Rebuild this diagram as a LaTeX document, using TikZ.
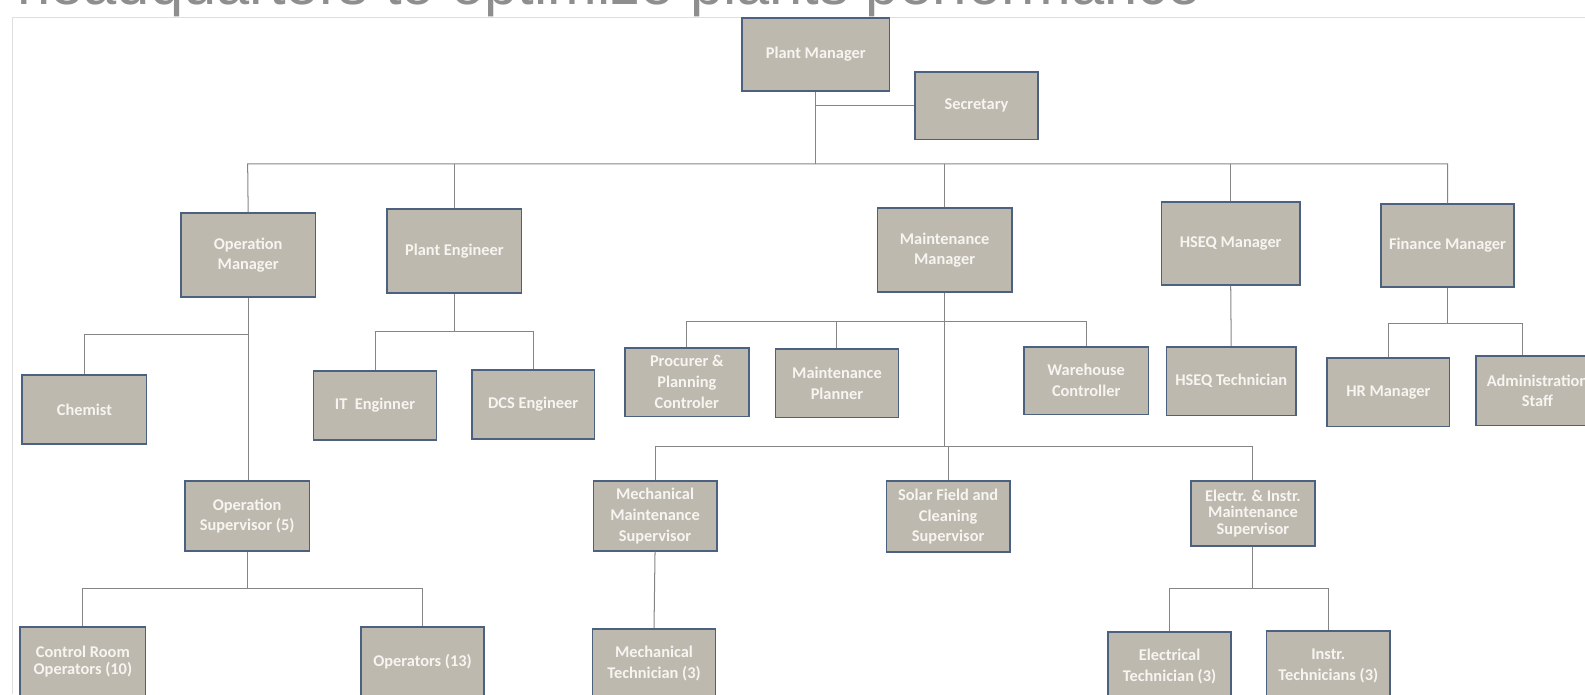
\documentclass[tikz,border=0pt]{standalone}
\usepackage{fontspec}
\usepackage{xcolor}
\usepackage{tikz}
\usetikzlibrary{positioning,calc}
\newfontfamily\boxfont{Carlito}
\newfontfamily\titlefont{Liberation Sans}
\definecolor{boxFill}{HTML}{BEB9AE}
\definecolor{boxEdge}{HTML}{4C6180}
\definecolor{boxText}{HTML}{F6F5F1}
\definecolor{linkGray}{HTML}{858585}
\definecolor{frameGray}{HTML}{DEDEDE}
\definecolor{titleGray}{HTML}{8E8E8E}
\tikzset{
  orgbox/.style={draw=boxEdge, line width=1.6pt, fill=boxFill, text=boxText, align=center,
    inner sep=0pt, minimum width=122pt, minimum height=68pt,
    font=\boxfont\bfseries\fontsize{16.2}{20.5}\selectfont},
  tightbox/.style={orgbox, font=\boxfont\bfseries\fontsize{16.2}{16}\selectfont},
  link/.style={draw=linkGray, line width=1pt}
}

\begin{document}
\begin{tikzpicture}[x=1pt, y=-1pt]
\useasboundingbox (0,0) rectangle (1568,687);
\clip (0,0) rectangle (1568,687);
% --- slide frame and cut-off title ---
\draw[frameGray, line width=1pt] (12,687) -- (12,17) -- (1568,17);
\node[anchor=base west, inner sep=0pt, text=titleGray, font=\titlefont\fontsize{59}{64}\selectfont] (title) at (17,4) {headquarters to optimize plants performance};
% --- top ---
\node[orgbox, minimum width=146pt, minimum height=72pt] (PM) at (807,54) {Plant Manager};
\node[orgbox, minimum height=67pt] (Sec) at (966,104.5) {Secretary};
\coordinate (bus) at (245,162);
% --- level 2 ---
\node[orgbox, minimum width=133pt, minimum height=83pt] (OpMgr) at (245.5,252.5) {Operation\\Manager};
\node[orgbox, minimum width=133pt, minimum height=83pt] (PlEng) at (449.5,248.5) {Plant Engineer};
\node[orgbox, minimum width=133pt, minimum height=83pt] (MaintMgr) at (934.5,247.5) {Maintenance\\Manager};
\node[orgbox, minimum width=137pt, minimum height=82pt] (HSEQMgr) at (1217.5,241) {HSEQ Manager};
\node[orgbox, minimum width=132pt, minimum height=82pt] (FinMgr) at (1432,243) {Finance Manager};
% --- operation ---
\node[orgbox, minimum width=123pt] (Chem) at (83.5,405) {Chemist};
\node[orgbox, minimum width=123pt, minimum height=69pt] (OpSup) at (244.5,510.5) {Operation\\Supervisor (5)};
\node[tightbox, minimum width=124pt, minimum height=69pt] (CRO) at (82,654.5) {Control Room\\Operators (10)};
\node[orgbox, minimum height=69pt] (Oper) at (418,654.5) {Operators (13)};
% --- engineering ---
\node[orgbox] (ITEng) at (371,401) {IT\ \ Enginner};
\node[orgbox, minimum width=121pt] (DCSEng) at (527.5,400) {DCS Engineer};
% --- maintenance ---
\node[orgbox, minimum width=123pt] (Proc) at (679.5,378) {Procurer \&\\Planning\\Controler};
\node[orgbox] (MPlan) at (828,379) {Maintenance\\Planner};
\node[orgbox, minimum width=123pt, minimum height=67pt] (Ware) at (1074.5,376.5) {Warehouse\\Controller};
\node[orgbox, minimum height=69pt] (MechSup) at (648,510.5) {Mechanical\\Maintenance\\Supervisor};
\node[orgbox, minimum height=70pt] (Solar) at (938,511) {Solar Field and\\Cleaning\\Supervisor};
\node[tightbox, minimum width=123pt, minimum height=64pt] (EISup) at (1239.5,508) {Electr. \& Instr.\\Maintenance\\Supervisor};
\node[orgbox, minimum height=69pt] (MechTech) at (647,656.5) {Mechanical\\Technician (3)};
\node[orgbox, minimum height=69pt] (ElTech) at (1157,659.5) {Electrical\\Technician (3)};
\node[orgbox, minimum height=69pt] (InTech) at (1314,658.5) {Instr.\\Technicians (3)};
% --- hseq and finance ---
\node[orgbox, minimum width=128pt] (HSEQTech) at (1218,377) {HSEQ Technician};
\node[orgbox, minimum width=121pt] (HR) at (1373.5,388) {HR Manager};
\node[orgbox, minimum height=69pt] (Admin) at (1521,386.5) {Administration\\Staff};
% --- connectors ---
\draw[link] (PM.south) -- (PM.south |- bus);
\draw[link] (PM.south |- Sec.west) -- (Sec.west);
\draw[link] (OpMgr.north) -- (bus) -- (FinMgr.north |- bus) -- (FinMgr.north);
\foreach \n in {PlEng,MaintMgr,HSEQMgr}
  \draw[link] (\n.north) -- (\n.north |- bus);
\coordinate (opBr) at (245,331);
\draw[link] (OpMgr.south) -- (OpSup.north -| OpMgr.south);
\draw[link] (Chem.north) |- (opBr);
\coordinate (supBr) at (245,582);
\draw[link] (OpSup.south) -- (OpSup.south |- supBr);
\draw[link] (CRO.north) |- (supBr) -| (Oper.north);
\coordinate (engBr) at (449,328);
\draw[link] (PlEng.south) -- (PlEng.south |- engBr);
\draw[link] (ITEng.north) |- (engBr) -| (DCSEng.north);
\coordinate (mntBr) at (935,318);
\coordinate (supBus) at (935,442);
\draw[link] (MaintMgr.south) -- (MaintMgr.south |- supBus);
\draw[link] (Proc.north) |- (mntBr) -| (Ware.north);
\draw[link] (MPlan.north) -- (MPlan.north |- mntBr);
\draw[link] (MechSup.north) |- (supBus) -| (EISup.north);
\draw[link] (Solar.north) -- (Solar.north |- supBus);
\draw[link] (MechSup.south) -- (MechTech.north);
\coordinate (eiBr) at (1239.5,582);
\draw[link] (EISup.south) -- (eiBr);
\draw[link] (ElTech.north) |- (eiBr) -| (InTech.north);
\draw[link] (HSEQMgr.south) -- (HSEQTech.north);
\coordinate (finBr) at (1432,320);
\coordinate (adminIn) at ($(Admin.north)+(-15,0)$);
\draw[link] (FinMgr.south) -- (finBr);
\draw[link] (HR.north) |- (finBr) -| (adminIn);
\end{tikzpicture}
\end{document}
